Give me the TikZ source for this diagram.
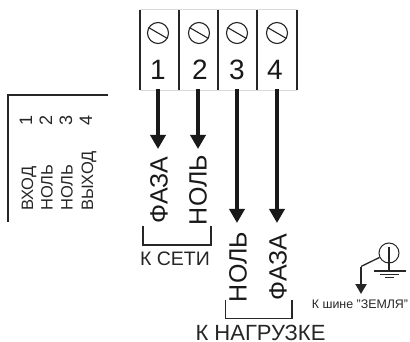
\documentclass[tikz,border=0pt]{standalone}
\usepackage{fontspec}
\setmainfont{Liberation Sans}
\usetikzlibrary{arrows.meta}
\tikzset{
 x=1pt,y=-1pt,
 post/.style={line width=1.5pt,black!85},
 frameline/.style={line width=0.5pt,black!15},
 screw/.style={circle,draw=black!85,line width=1.1pt,minimum size=21pt,inner sep=0pt},
 wire/.style={line width=4.4pt,black!90,-{Triangle[length=14pt,width=15pt]}},
 brk/.style={line width=1.1pt,black!85},
 digit/.style={font=\fontsize{28}{28}\selectfont,inner sep=0pt,text=black!90},
 big/.style={font=\fontsize{25}{25}\selectfont,rotate=90,inner sep=0pt,text=black!90},
 caption/.style={font=\fontsize{19.5}{19.5}\selectfont,inner sep=0pt,text=black!85},
 tbl/.style={font=\fontsize{16.5}{16.5}\selectfont,rotate=90,inner sep=0pt,text=black!85},
 tblnum/.style={font=\fontsize{18}{18}\selectfont,rotate=90,inner sep=0pt,text=black!85}
}
\begin{document}
\begin{tikzpicture}
\useasboundingbox (0,0) rectangle (410,342);
\fill[white] (0,0) rectangle (410,342);
\draw[frameline] (140,9.5) -- (297,9.5) (140,90) -- (297,90);
\foreach \x in {140,179,218,257,297} \draw[post] (\x,10) -- (\x,90);
\foreach \n/\x/\dx/\wx in {1/158/158/158,2/199/200/198,3/237/237/237,4/277/275/277}{
 \node[screw] (s\n) at (\x,33) {};
 \draw[line width=1.1pt,black!85] (s\n.150) -- (s\n.-30);
 \node[digit] (d\n) at (\dx,70) {\n};
 \coordinate (t\n) at (\wx,89);
}
\coordinate (e1) at (158,149); \coordinate (e2) at (198,149);
\coordinate (e3) at (237,223); \coordinate (e4) at (277,223);
\foreach \n in {1,2,3,4} \draw[wire] (t\n) -- (e\n);
\node[big] (f1) at (159,190) {ФАЗА};
\node[big] (n1) at (198,190) {НОЛЬ};
\node[big] (n2) at (238,267) {НОЛЬ};
\node[big] (f2) at (278,267) {ФАЗА};
\draw[brk] (143,226) -- (143,245) -- (211,245) -- (211,226);
\draw[brk] (225.5,300) -- (225.5,318.5) -- (292,318.5) -- (292,300);
\node[caption] (c1) at (175,259) {К СЕТИ};
\node[caption,font=\fontsize{22}{22}\selectfont,anchor=base] (c2) at (260.5,340) {К НАГРУЗКЕ};
\draw[line width=1.2pt,black!85] (8,222) -- (8,95) -- (108,95);
\node[tbl,anchor=base west] (a1) at (33,211) {ВХОД};
\node[tbl,anchor=base west] (a2) at (52.5,211) {НОЛЬ};
\node[tbl,anchor=base west] (a3) at (72.5,211) {НОЛЬ};
\node[tbl,anchor=base west] (a4) at (93,211) {ВЫХОД};
\node[tblnum,anchor=base] (b1) at (32,120) {1};
\node[tblnum,anchor=base] (b2) at (52,120) {2};
\node[tblnum,anchor=base] (b3) at (72,120) {3};
\node[tblnum,anchor=base] (b4) at (92,120) {4};
\node[circle,draw=black!85,line width=1pt,minimum size=20pt,inner sep=0pt] (g) at (389,253) {};
\coordinate (gb) at (389,271);
\draw[line width=1.2pt,black!85] (389,247) -- (gb);
\draw[line width=1.3pt,black!85] (374,271) -- (406,271);
\draw[line width=1.3pt,black!85] (380,274.5) -- (399,274.5);
\draw[line width=1.2pt,black!85] (385,277.5) -- (394,277.5);
\coordinate (gk) at (361,266.5);
\coordinate (ge) at (361,294);
\draw[line width=1.3pt,black!85] (g.205) -- (gk);
\draw[line width=2.2pt,black!85,-{Triangle[length=10pt,width=11pt]}] (gk) -- (ge);
\node[font=\fontsize{12.4}{12.4}\selectfont,inner sep=0pt,text=black!85] (gt) at (360,304) {К шине "ЗЕМЛЯ"};
\end{tikzpicture}
\end{document}
